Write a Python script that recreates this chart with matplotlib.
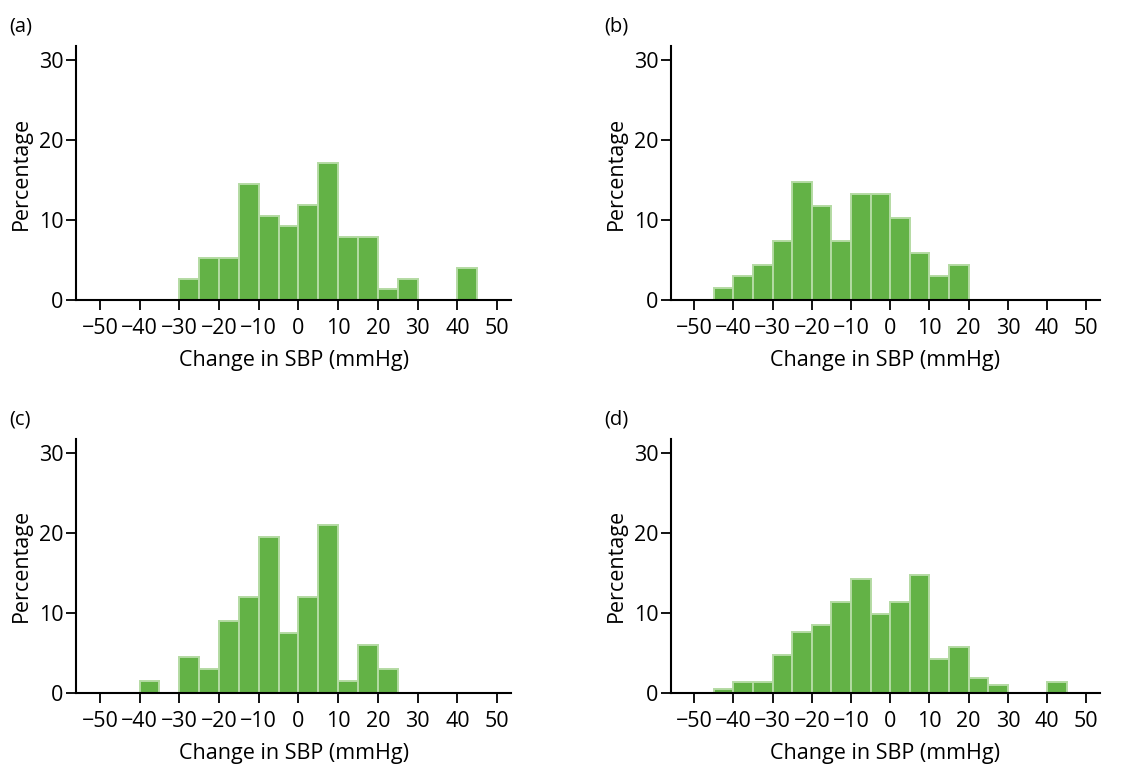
import numpy as np
import matplotlib
matplotlib.use("Agg")
import matplotlib.pyplot as plt

# percentage of patients in each 5 mmHg bin of SBP change
bin_edges = np.arange(-50, 55, 5)

pct_a = [0, 0, 0, 0, 2.63, 5.26, 5.26, 14.47, 10.53, 9.21,
         11.84, 17.11, 7.89, 7.89, 1.32, 2.63, 0, 0, 3.95, 0]
pct_b = [0, 1.47, 2.94, 4.41, 7.35, 14.71, 11.76, 7.35, 13.24, 13.24,
         10.29, 5.88, 2.94, 4.41, 0, 0, 0, 0, 0, 0]
pct_c = [0, 0, 1.49, 0, 4.48, 2.99, 8.96, 11.94, 19.40, 7.46,
         11.94, 20.90, 1.49, 5.97, 2.99, 0, 0, 0, 0, 0]
pct_d = [0, 0.50, 1.33, 1.33, 4.74, 7.56, 8.52, 11.38, 14.20, 9.89,
         11.38, 14.70, 4.24, 5.69, 1.87, 0.91, 0, 0, 1.33, 0]

panel_labels = ["(a)", "(b)", "(c)", "(d)"]
panel_data = [pct_a, pct_b, pct_c, pct_d]
x_ticks = np.arange(-50, 60, 10)
y_ticks = [0, 10, 20, 30]

plt.rcParams['font.family'] = ['Open Sans', 'DejaVu Sans']

fill_col = "#63b246"
edge_col = "#b4dba3"

fig = plt.figure(figsize=(11.28, 7.64), dpi=100)

# axes boxes in figure fractions: left, bottom, width, height
boxes = [
    [0.0674, 0.6073, 0.3856, 0.3325],
    [0.5946, 0.6073, 0.3806, 0.3325],
    [0.0674, 0.0933, 0.3856, 0.3320],
    [0.5946, 0.0933, 0.3806, 0.3320],
]

for box, lab, pct in zip(boxes, panel_labels, panel_data):
    ax = fig.add_axes(box)
    heights = np.asarray(pct)
    keep = heights > 0
    ax.bar(bin_edges[:-1][keep], heights[keep], width=5, align="edge",
           color=fill_col, edgecolor=edge_col, linewidth=1.4, zorder=2)

    ax.set_xlim(-56, 53.5)
    ax.set_ylim(0, 31.7)
    ax.set_xticks(x_ticks)
    ax.set_yticks(y_ticks)
    ax.tick_params(axis="both", labelsize=15.5, length=7, width=1.3,
                   direction="out", color="black")
    ax.tick_params(axis="x", pad=6)
    ax.tick_params(axis="y", pad=2)

    for side in ["top", "right"]:
        ax.spines[side].set_visible(False)
    for side in ["left", "bottom"]:
        ax.spines[side].set_linewidth(1.5)

    ax.set_xlabel("Change in SBP (mmHg)", fontsize=15.5, va="center")
    ax.set_ylabel("Percentage", fontsize=15.5, va="center")
    ax.xaxis.set_label_coords(0.5, -0.238)
    ax.yaxis.set_label_coords(-0.126, 0.5)

    # panel letter above the top-left corner
    x0 = box[0] - 0.059
    y0 = box[1] + box[3] + 0.026
    fig.text(x0, y0, lab, fontsize=14.5, ha="left", va="center")

fig.savefig("out.png", dpi=100)
